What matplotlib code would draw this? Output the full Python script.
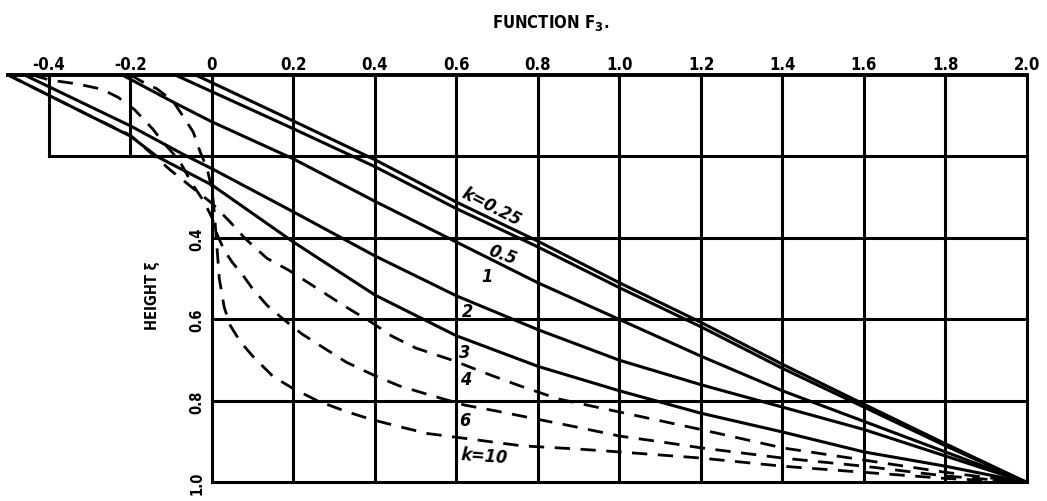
import numpy as np
import matplotlib
matplotlib.use("Agg")
import matplotlib.pyplot as plt
from matplotlib import font_manager

# ---------------- data ----------------
x_ticks = [-0.4, -0.2, 0.0, 0.2, 0.4, 0.6, 0.8, 1.0, 1.2, 1.4, 1.6, 1.8, 2.0]
x_tick_labels = ["-0.4", "-0.2", "0", "0.2", "0.4", "0.6", "0.8", "1.0",
                 "1.2", "1.4", "1.6", "1.8", "2.0"]
y_ticks = [0.4, 0.6, 0.8, 1.0]
y_tick_labels = ["0.4", "0.6", "0.8", "1.0"]

# solid curves
k025_x = [-0.04, 0.2, 0.4, 0.6, 0.8, 1.0, 1.2, 1.4, 1.6, 1.8, 2.0]
k025_y = [0.0, 0.113, 0.208, 0.312, 0.408, 0.51, 0.607, 0.71, 0.808, 0.905, 1.0]

k05_x = [-0.09, 0.2, 0.4, 0.6, 0.8, 1.0, 1.2, 1.4, 1.6, 1.8, 2.0]
k05_y = [0.0, 0.132, 0.225, 0.328, 0.422, 0.522, 0.618, 0.72, 0.815, 0.91, 1.0]

k1_x = [-0.22, -0.1, 0.0, 0.2, 0.4, 0.6, 0.8, 1.0, 1.2, 1.4, 1.6, 1.8, 2.0]
k1_y = [0.0, 0.064, 0.115, 0.206, 0.31, 0.41, 0.51, 0.60, 0.69, 0.775, 0.85, 0.925, 1.0]

k2_x = [-0.46, -0.2, -0.07, 0.0, 0.2, 0.4, 0.6, 0.8, 1.0, 1.2, 1.4, 1.6, 1.8, 2.0]
k2_y = [0.0, 0.125, 0.195, 0.23, 0.336, 0.444, 0.542, 0.625, 0.70, 0.76, 0.815, 0.87, 0.935, 1.0]

k3_x = [-0.5, -0.2, -0.135, 0.0, 0.2, 0.4, 0.6, 0.8, 1.0, 1.2, 1.4, 1.6, 1.8, 2.0]
k3_y = [0.0, 0.15, 0.2, 0.27, 0.41, 0.54, 0.64, 0.715, 0.775, 0.83, 0.876, 0.925, 0.96, 1.0]

# dashed curves
k4_x = [-0.5, -0.4, -0.3, -0.2, -0.1, -0.05, 0.0, 0.044, 0.08, 0.135, 0.19, 0.26,
        0.33, 0.39, 0.44, 0.50, 0.59, 0.68, 0.756, 0.85, 1.0, 1.2, 1.4, 1.6, 1.8, 2.0]
k4_y = [0.0, 0.05, 0.1, 0.148, 0.235, 0.275, 0.315, 0.36, 0.40, 0.45, 0.48, 0.525,
        0.57, 0.606, 0.64, 0.67, 0.70, 0.735, 0.763, 0.795, 0.827, 0.87, 0.915, 0.945, 0.975, 1.0]

k6_x = [-0.44, -0.4, -0.33, -0.27, -0.23, -0.19, -0.145, -0.12, -0.08, -0.05, -0.02,
        0.0, 0.012, 0.03, 0.05, 0.075, 0.1, 0.135, 0.17, 0.22, 0.27, 0.33, 0.40, 0.46,
        0.54, 0.62, 0.70, 0.80, 0.90, 1.0, 1.1, 1.2, 1.4, 1.6, 1.8, 2.0]
k6_y = [0.0, 0.012, 0.022, 0.035, 0.055, 0.085, 0.133, 0.165, 0.21, 0.265, 0.31,
        0.35, 0.39, 0.43, 0.46, 0.49, 0.525, 0.565, 0.595, 0.635, 0.667, 0.705, 0.738, 0.763,
        0.787, 0.81, 0.825, 0.845, 0.865, 0.886, 0.90, 0.915, 0.94, 0.96, 0.984, 1.0]

k10_x = [-0.2, -0.17, -0.135, -0.096, -0.073, -0.046, -0.03, -0.012, 0.0, 0.006, 0.012,
         0.018, 0.03, 0.045, 0.07, 0.1, 0.15, 0.2, 0.26, 0.33, 0.39, 0.46, 0.53, 0.6,
         0.76, 0.9, 1.0, 1.2, 1.4, 1.6, 1.8, 2.0]
k10_y = [0.0, 0.017, 0.034, 0.064, 0.098, 0.14, 0.186, 0.23, 0.28, 0.34, 0.42,
         0.5, 0.57, 0.615, 0.655, 0.69, 0.74, 0.77, 0.80, 0.826, 0.845, 0.863, 0.88, 0.889,
         0.91, 0.918, 0.925, 0.94, 0.96, 0.975, 0.99, 1.0]

solid_curves = [(k025_x, k025_y), (k05_x, k05_y), (k1_x, k1_y), (k2_x, k2_y), (k3_x, k3_y)]
dashed_curves = [(k4_x, k4_y), (k6_x, k6_y), (k10_x, k10_y)]

curve_labels = ["k=0.25", "0.5", "1", "2", "3", "4", "6", "k=10"]

# ---------------- fonts ----------------
fonts = font_manager.fontManager.ttflist
names = {f.name for f in fonts}
stretch = "normal"
if "Liberation Sans Narrow" in names:
    narrow = "Liberation Sans Narrow"
elif any(f.name == "DejaVu Sans" and str(f.stretch) in ("condensed", "semi-condensed")
         for f in fonts):
    narrow = "DejaVu Sans"
    stretch = "condensed"
else:
    narrow = "DejaVu Sans"
fam = [narrow, "DejaVu Sans"]
plt.rcParams["font.family"] = fam
plt.rcParams["mathtext.fontset"] = "custom"
plt.rcParams["mathtext.rm"] = narrow + ":bold"
plt.rcParams["mathtext.bf"] = narrow + ":bold"
plt.rcParams["mathtext.it"] = narrow + ":bold:italic"
plt.rcParams["mathtext.default"] = "bf"

# ---------------- figure ----------------
fig = plt.figure(figsize=(10.47, 5.02), dpi=100)
fig.patch.set_facecolor("white")
ax = fig.add_axes([0, 0, 1, 1])
ax.set_xlim(-0.5202, 2.0491)
ax.set_ylim(1.0454, -0.1865)
ax.axis("off")

glw = 2.2
# horizontal grid lines
ax.plot([-0.5, 2.0], [0.0, 0.0], color="black", lw=2.8, solid_capstyle="projecting")
ax.plot([-0.4, 2.0], [0.2, 0.2], color="black", lw=glw, solid_capstyle="projecting")
for yv in [0.4, 0.6, 0.8, 1.0]:
    ax.plot([0.0, 2.0], [yv, yv], color="black", lw=glw, solid_capstyle="projecting")
# vertical grid lines
for xv in [-0.4, -0.2]:
    ax.plot([xv, xv], [0.0, 0.2], color="black", lw=glw, solid_capstyle="projecting")
for xv in x_ticks[2:]:
    ax.plot([xv, xv], [0.0, 1.0], color="black", lw=glw, solid_capstyle="projecting")

# curves
for cx, cy in solid_curves:
    ax.plot(cx, cy, color="black", lw=2.2, solid_joinstyle="round", solid_capstyle="round")
for cx, cy in dashed_curves:
    ax.plot(cx, cy, color="black", lw=2.0, linestyle=(0, (5.5, 3.8)),
            dash_capstyle="butt")

# top tick labels
for xv, lab in zip(x_ticks, x_tick_labels):
    ax.text(xv, -0.028, lab, ha="center", va="center", fontsize=12,
            fontweight="bold", fontstretch=stretch, family=fam)

# y tick labels (rotated)
for yv, lab in zip(y_ticks, y_tick_labels):
    ax.text(-0.036, yv, lab, ha="center", va="center", rotation=90, fontsize=10.5,
            fontweight="bold", fontstretch=stretch, family=fam)

# axis titles
ax.text(0.83, -0.13, "FUNCTION F$_3$.", ha="center", va="center", fontsize=12,
        fontweight="bold", fontstretch=stretch, family=fam)
ax.text(-0.145, 0.54, "HEIGHT ξ", ha="center", va="center", rotation=90, fontsize=10.5,
        fontweight="bold", fontstretch=stretch, family=fam)

# curve labels
label_pos = [(0.685, 0.322, -27), (0.712, 0.44, -20), (0.675, 0.493, 0),
             (0.628, 0.58, 0), (0.62, 0.68, 0), (0.623, 0.746, 0),
             (0.62, 0.847, 0), (0.668, 0.935, -4)]
for lab, (lx, ly, rot) in zip(curve_labels, label_pos):
    ax.text(lx, ly, lab, ha="center", va="center", rotation=rot, fontsize=13,
            fontstyle="italic", fontweight="bold", fontstretch=stretch, family=fam)

fig.savefig("out.png", dpi=100, facecolor="white")
